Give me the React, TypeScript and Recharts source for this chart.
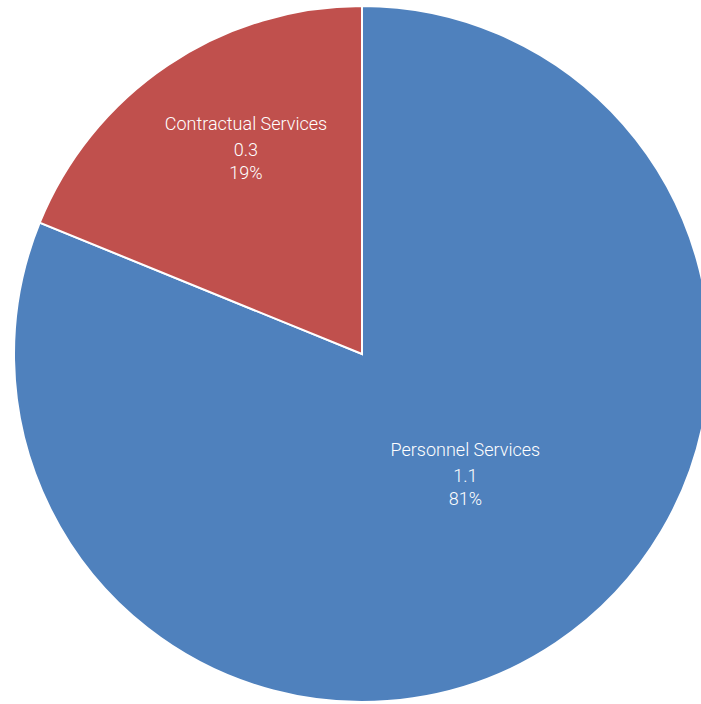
import React from 'react';
import { PieChart, Pie, Cell } from 'recharts';

// budget split, values in millions
const categories = ['Personnel Services', 'Contractual Services'];
const amounts = [1.12, 0.26];
const percents = ['81%', '19%'];
const COLORS = ['#4F81BD', '#C0504D'];

const data = categories.map((name, i) => ({ name, value: amounts[i], pct: percents[i] }));

const RADIAN = Math.PI / 180;

// labels sit at a different depth per slice, like the source chart
const renderLabel = (props: any) => {
  const { cx, cy, midAngle, outerRadius, index } = props;
  const depth = index === 0 ? 0.45 : 0.68;
  const r = outerRadius * depth;
  const x = cx + r * Math.cos(-midAngle * RADIAN) + 16;
  const y = cy + r * Math.sin(-midAngle * RADIAN) - 9;
  const d = data[index];
  return (
    <text x={x} y={y} fill="#fff" textAnchor="middle" fontFamily="Roboto" fontSize={18} fontWeight={300}>
      <tspan x={x} y={y - 19}>{d.name}</tspan>
      <tspan x={x} y={y + 7}>{d.value.toFixed(1)}</tspan>
      <tspan x={x} y={y + 30}>{d.pct}</tspan>
    </text>
  );
};

export default function App() {
  return (
    <div style={{ position: 'absolute', left: 0, top: 0, width: 701, height: 704, background: '#fff' }}>
      <PieChart width={701} height={704} margin={{ top: 0, right: 0, bottom: 0, left: 0 }}>
        <Pie
          data={data}
          dataKey="value"
          cx={362}
          cy={354}
          outerRadius={348}
          startAngle={90}
          endAngle={-270}
          stroke="#fff"
          strokeWidth={2}
          label={renderLabel}
          labelLine={false}
          isAnimationActive={false}
        >
          {data.map((entry, i) => (
            <Cell key={entry.name} fill={COLORS[i]} />
          ))}
        </Pie>
      </PieChart>
    </div>
  );
}
